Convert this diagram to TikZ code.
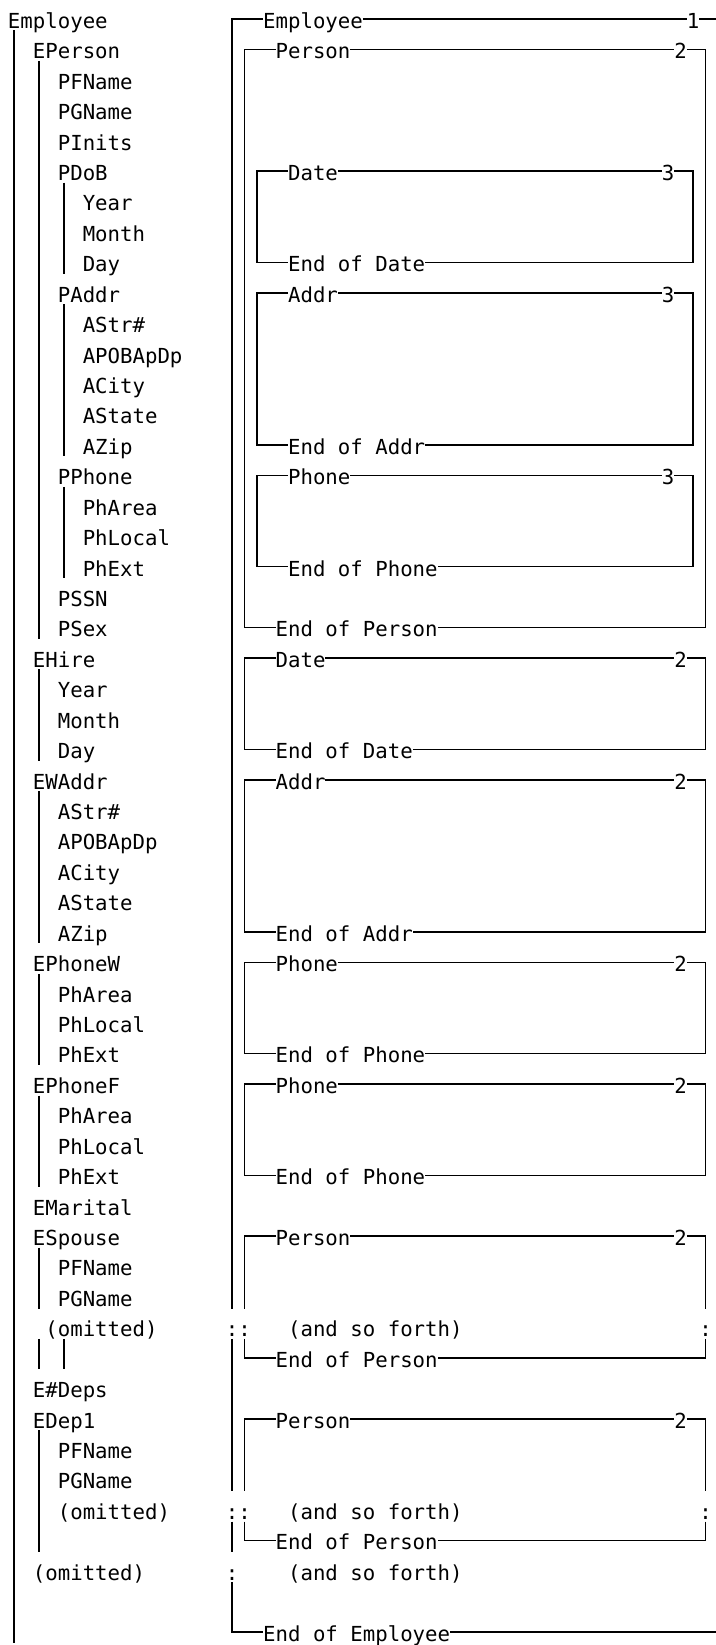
\documentclass[tikz,border=0pt]{standalone}
\usepackage{fontspec}
\newfontfamily\mono{DejaVu Sans Mono}
\tikzset{
  lbl/.style={anchor=west, inner sep=0pt, outer sep=0pt,
    font=\mono\fontsize{20.7pt}{24pt}\selectfont, text height=24.6pt, text depth=6pt},
  ln/.style={line width=1.5pt, line cap=butt, line join=miter}
}
% left tree helpers
\newcommand\tx[3]{\node[lbl] (L#1) at (#2,#1) {#3};}
\newcommand\vb[3]{\draw[ln] (#1+.5,#2-.624) -- (#1+.5,#3+.376);}
% right boxes: name, left col, right col, top row, bottom row, title, number
\newcommand\ebox[7]{%
  \node[lbl] (#1t) at (#2+3,#4) {#6};
  \node[lbl] (#1n) at (#3-2,#4) {#7};
  \node[lbl] (#1e) at (#2+3,#5) {End of #6};
  \draw[ln] (#1t.west) -- (#2+.5,#4) -- (#2+.5,#5) -- (#1e.west);
  \draw[ln] (#1t.east) -- (#1n.west);
  \draw[ln] (#1n.east) -- (#3+.5,#4) -- (#3+.5,#5) -- (#1e.east);
}
% person box with a dotted row: name, top row, dotted row, bottom row
\newcommand\dbox[4]{%
  \node[lbl] (#1t) at (4,#2) {Person};
  \node[lbl] (#1n) at (36,#2) {2};
  \node[lbl] (#1e) at (4,#4) {End of Person};
  \node[lbl] (#1a) at (1,#3) {:};
  \node[lbl] (#1b) at (38,#3) {:};
  \node[lbl] (#1f) at (5,#3) {(and so forth)};
  \draw[ln] (#1t.west) -- (1.5,#2) -- (1.5,#3-.624);
  \draw[ln] (1.5,#3+.376) -- (1.5,#4) -- (#1e.west);
  \draw[ln] (#1t.east) -- (#1n.west);
  \draw[ln] (#1n.east) -- (38.5,#2) -- (38.5,#3-.624);
  \draw[ln] (38.5,#3+.376) -- (38.5,#4) -- (#1e.east);
}
\begin{document}
\begin{tikzpicture}[x=12.46pt, y=-30.43pt]
\fill[white] (0pt,0pt) rectangle (715pt,-1645pt);
\useasboundingbox (0pt,0pt) rectangle (715pt,-1645pt);

% ---------------- left tree ----------------
\begin{scope}[shift={(8pt,11.43pt)}]
\tx{1}{0}{Employee}
\tx{2}{2}{EPerson}
\tx{3}{4}{PFName}
\tx{4}{4}{PGName}
\tx{5}{4}{PInits}
\tx{6}{4}{PDoB}
\tx{7}{6}{Year}
\tx{8}{6}{Month}
\tx{9}{6}{Day}
\tx{10}{4}{PAddr}
\tx{11}{6}{AStr\#}
\tx{12}{6}{APOBApDp}
\tx{13}{6}{ACity}
\tx{14}{6}{AState}
\tx{15}{6}{AZip}
\tx{16}{4}{PPhone}
\tx{17}{6}{PhArea}
\tx{18}{6}{PhLocal}
\tx{19}{6}{PhExt}
\tx{20}{4}{PSSN}
\tx{21}{4}{PSex}
\tx{22}{2}{EHire}
\tx{23}{4}{Year}
\tx{24}{4}{Month}
\tx{25}{4}{Day}
\tx{26}{2}{EWAddr}
\tx{27}{4}{AStr\#}
\tx{28}{4}{APOBApDp}
\tx{29}{4}{ACity}
\tx{30}{4}{AState}
\tx{31}{4}{AZip}
\tx{32}{2}{EPhoneW}
\tx{33}{4}{PhArea}
\tx{34}{4}{PhLocal}
\tx{35}{4}{PhExt}
\tx{36}{2}{EPhoneF}
\tx{37}{4}{PhArea}
\tx{38}{4}{PhLocal}
\tx{39}{4}{PhExt}
\tx{40}{2}{EMarital}
\tx{41}{2}{ESpouse}
\tx{42}{4}{PFName}
\tx{43}{4}{PGName}
\tx{44}{3}{(omitted)}
\tx{46}{2}{E\#Deps}
\tx{47}{2}{EDep1}
\tx{48}{4}{PFName}
\tx{49}{4}{PGName}
\tx{50}{4}{(omitted)}
\tx{52}{2}{(omitted)}
% bars
\vb{0}{2}{54}
\vb{2}{3}{21}
\vb{4}{7}{9}
\vb{4}{11}{15}
\vb{4}{17}{19}
\vb{2}{23}{25}
\vb{2}{27}{31}
\vb{2}{33}{35}
\vb{2}{37}{39}
\vb{2}{42}{43}
\vb{2}{45}{45}
\vb{4}{45}{45}
\vb{2}{48}{51}
\end{scope}

% ---------------- right boxes ----------------
\begin{scope}[shift={(225.8pt,11.43pt)}]
% level 1: Employee
\node[lbl] (empT) at (3,1) {Employee};
\node[lbl] (empN) at (37,1) {1};
\node[lbl] (empE) at (3,54) {End of Employee};
\coordinate (edgeT) at (39.4,1);
\coordinate (edgeB) at (39.4,54);
\node[lbl] (c44) at (0,44) {:};
\node[lbl] (c50) at (0,50) {:};
\node[lbl] (c52) at (0,52) {:};
\node[lbl] (f52) at (5,52) {(and so forth)};
\draw[ln] (empT.west) -- (0.5,1) -- (0.5,43.376);
\draw[ln] (0.5,44.376) -- (0.5,49.376);
\draw[ln] (0.5,50.376) -- (0.5,51.376);
\draw[ln] (0.5,52.376) -- (0.5,54) -- (empE.west);
\draw[ln] (empT.east) -- (empN.west);
\draw[ln] (empN.east) -- (edgeT);
\draw[ln] (empE.east) -- (edgeB);
% level 2
\ebox{pa}{1}{38}{2}{21}{Person}{2}
\ebox{da}{1}{38}{22}{25}{Date}{2}
\ebox{aa}{1}{38}{26}{31}{Addr}{2}
\ebox{ph}{1}{38}{32}{35}{Phone}{2}
\ebox{pf}{1}{38}{36}{39}{Phone}{2}
\dbox{sp}{41}{44}{45}
\dbox{dp}{47}{50}{51}
% level 3
\ebox{db}{2}{37}{6}{9}{Date}{3}
\ebox{ab}{2}{37}{10}{15}{Addr}{3}
\ebox{pb}{2}{37}{16}{19}{Phone}{3}
\end{scope}
\end{tikzpicture}
\end{document}
